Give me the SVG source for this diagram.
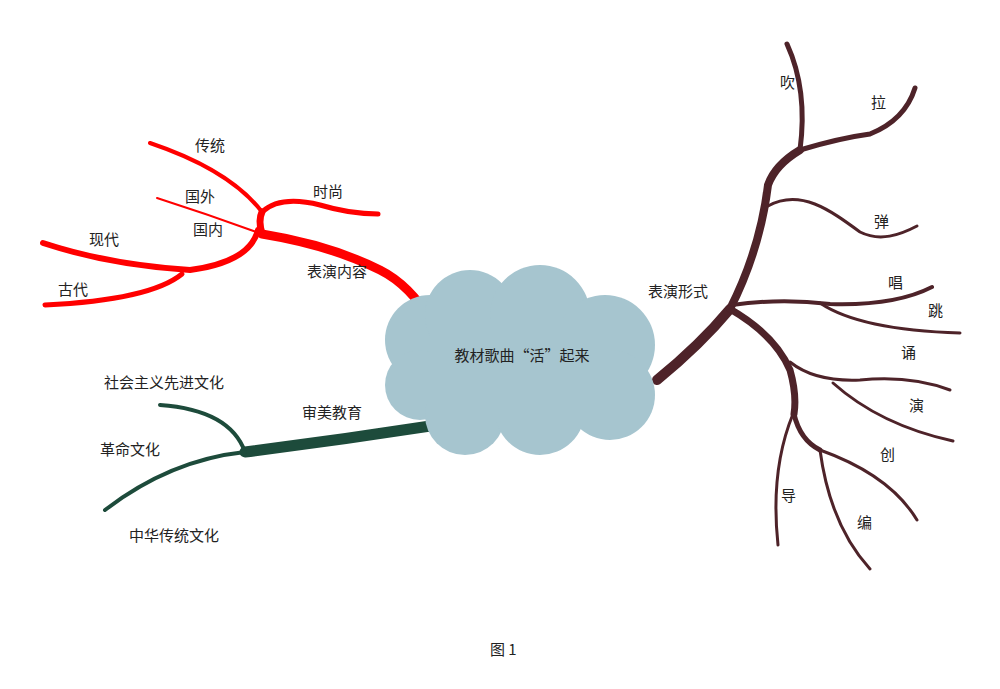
<svg xmlns="http://www.w3.org/2000/svg" width="1000" height="689" viewBox="0 0 1000 689">
<style>
text{font-family:"Noto Sans CJK SC","Noto Sans",sans-serif;font-size:15px;fill:#222}
.r{fill:none;stroke:#f00;stroke-linecap:round}
.g{fill:none;stroke:#1d4b3b;stroke-linecap:round}
.b{fill:none;stroke:#4e2329;stroke-linecap:round}
</style>
<rect width="1000" height="689" fill="#fff"/>
<g id="connectors">
<path class="r" stroke-width="9" d="M432,322 Q410,285 380,270 Q330,245 262,234"/>
<path class="r" stroke-width="7" d="M262,234 Q258,220 262,212"/>
<path class="r" stroke-width="5" d="M262,212 Q280,195 320,205 Q350,214 378,214"/>
<path class="r" stroke-width="4" d="M262,212 Q230,170 150,143"/>
<path class="r" stroke-width="2" d="M157,198 Q210,215 262,234"/>
<path class="r" stroke-width="6" d="M258,230 Q250,262 190,270 Q110,265 43,243"/>
<path class="r" stroke-width="5" d="M182,274 Q150,300 45,305"/>
<path class="g" stroke-width="11" d="M437,425 Q340,440 245,452"/>
<path class="g" stroke-width="4" d="M245,452 Q230,410 160,405"/>
<path class="g" stroke-width="4" d="M245,452 Q170,460 105,510"/>
<path class="b" stroke-width="10" d="M657,380 Q700,345 730,309"/>
<path class="b" stroke-width="8" d="M730,309 Q760,250 768,185 Q775,165 800,150"/>
<path class="b" stroke-width="5" d="M800,150 Q808,90 787,44"/>
<path class="b" stroke-width="5" d="M800,150 Q840,138 870,134 Q905,120 915,88"/>
<path class="b" stroke-width="3" d="M768,206 C800,188 830,210 860,232 C880,242 900,235 917,226"/>
<path class="b" stroke-width="4" d="M732,305 Q780,298 830,304 Q895,306 932,287"/>
<path class="b" stroke-width="3" d="M820,303 Q860,330 960,333"/>
<path class="b" stroke-width="7" d="M730,309 Q775,335 790,370 Q797,395 794,414"/>
<path class="b" stroke-width="3" d="M790,362 Q815,382 860,380 Q910,375 950,390"/>
<path class="b" stroke-width="3" d="M833,383 Q880,425 953,441"/>
<path class="b" stroke-width="5" d="M794,414 Q800,440 820,450"/>
<path class="b" stroke-width="3" d="M793,414 Q770,470 778,545"/>
<path class="b" stroke-width="3" d="M820,450 Q890,475 917,520"/>
<path class="b" stroke-width="3" d="M820,450 Q830,525 870,569"/>
</g>
<g id="center">
<g fill="#a6c5cf">
<circle cx="430" cy="340" r="45"/><circle cx="470" cy="315" r="45"/><circle cx="540" cy="315" r="50"/><circle cx="605" cy="345" r="50"/>
<circle cx="420" cy="385" r="35"/><circle cx="465" cy="415" r="40"/><circle cx="540" cy="410" r="45"/><circle cx="610" cy="395" r="45"/>
<rect x="430" y="320" width="180" height="100"/>
</g>
<text x="522" y="361" text-anchor="middle">教材歌曲“活”起来</text>
</g>
<g id="labels">
<text x="195" y="151">传统</text><text x="313" y="197">时尚</text><text x="185" y="202">国外</text><text x="193" y="235">国内</text>
<text x="89" y="245">现代</text><text x="58" y="295">古代</text><text x="307" y="277">表演内容</text>
<text x="104" y="388">社会主义先进文化</text><text x="302" y="418">审美教育</text><text x="100" y="455">革命文化</text><text x="129" y="541">中华传统文化</text>
<text x="648" y="297">表演形式</text>
<text x="780" y="88">吹</text><text x="871" y="108">拉</text><text x="874" y="227">弹</text><text x="888" y="288">唱</text><text x="928" y="316">跳</text>
<text x="901" y="358">诵</text><text x="909" y="411">演</text><text x="880" y="460">创</text><text x="781" y="501">导</text><text x="857" y="528">编</text>
<text x="490" y="655">图 1</text>
</g>
</svg>
